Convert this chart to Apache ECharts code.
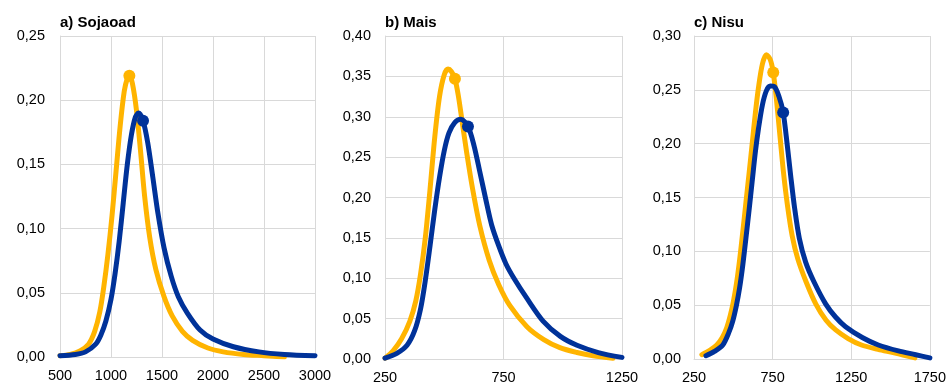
<!DOCTYPE html>
<html><head><meta charset="utf-8">
<script src="https://cdn.jsdelivr.net/npm/echarts@6/dist/echarts.min.js"></script>
<style>html,body{margin:0;padding:0;background:#fff}#c{width:949px;height:385px}</style>
</head><body><div id="c"></div>
<script>
// Panel titles
const panelTitles = ['a) Sojaoad', 'b) Mais', 'c) Nisu'];
// Axis ranges [xmin, xmax, xstep, ymax]
const xRanges = [[500, 3000, 500, 0.25], [250, 1250, 500, 0.40], [250, 1750, 500, 0.30]];

// Panel a) orange / blue curves [x, y]
const soyOrange = [[500,0.001],[600,0.002],[700,0.005],[780,0.010],[840,0.020],[890,0.035],[930,0.055],[970,0.080],[1010,0.110],[1050,0.145],[1090,0.180],[1130,0.207],[1160,0.217],[1180,0.219],[1210,0.213],[1250,0.192],[1290,0.160],[1330,0.125],[1380,0.093],[1440,0.068],[1520,0.047],[1600,0.032],[1700,0.020],[1800,0.013],[1950,0.007],[2100,0.004],[2300,0.002],[2500,0.001],[2700,0.000]];
const soyBlue = [[500,0.001],[650,0.002],[750,0.004],[850,0.010],[900,0.017],[950,0.028],[1000,0.045],[1040,0.065],[1080,0.090],[1120,0.120],[1160,0.150],[1200,0.173],[1240,0.187],[1270,0.190],[1314,0.184],[1360,0.167],[1410,0.140],[1460,0.112],[1520,0.085],[1590,0.063],[1660,0.047],[1750,0.034],[1873,0.021],[2000,0.014],[2200,0.008],[2450,0.004],[2700,0.002],[3000,0.001]];
// Panel b)
const maizeOrange = [[250,0.001],[284,0.010],[320,0.025],[355,0.047],[380,0.072],[400,0.105],[420,0.150],[440,0.210],[460,0.275],[480,0.325],[500,0.352],[516,0.359],[530,0.356],[545,0.347],[560,0.325],[575,0.295],[595,0.255],[620,0.210],[650,0.165],[690,0.122],[730,0.092],[777,0.066],[849,0.040],[920,0.024],[988,0.014],[1060,0.008],[1128,0.004],[1212,0.001]];
const maizeBlue = [[250,0.001],[300,0.007],[343,0.017],[375,0.035],[400,0.062],[420,0.097],[440,0.140],[460,0.185],[480,0.225],[500,0.258],[520,0.280],[545,0.293],[570,0.297],[600,0.288],[625,0.265],[650,0.232],[675,0.198],[700,0.166],[730,0.140],[760,0.118],[794,0.100],[849,0.075],[917,0.047],[990,0.028],[1060,0.017],[1150,0.008],[1250,0.002]];
// Panel c)
const wheatOrange = [[300,0.004],[350,0.008],[395,0.013],[430,0.020],[458,0.029],[480,0.040],[500,0.053],[520,0.070],[540,0.092],[560,0.118],[580,0.145],[600,0.172],[620,0.200],[640,0.228],[660,0.252],[685,0.274],[710,0.2826],[735,0.278],[754,0.266],[775,0.240],[798,0.205],[820,0.172],[845,0.142],[875,0.114],[910,0.093],[962,0.072],[1025,0.051],[1090,0.036],[1151,0.027],[1230,0.019],[1315,0.013],[1420,0.009],[1529,0.0055],[1655,0.001]];
const wheatBlue = [[326,0.003],[380,0.007],[433,0.013],[470,0.024],[496,0.035],[520,0.050],[540,0.066],[560,0.087],[580,0.112],[600,0.138],[620,0.165],[640,0.192],[660,0.214],[685,0.236],[710,0.249],[735,0.2535],[760,0.253],[790,0.244],[817,0.229],[842,0.200],[865,0.170],[890,0.140],[920,0.112],[960,0.090],[1012,0.072],[1088,0.051],[1150,0.039],[1214,0.030],[1320,0.020],[1422,0.013],[1550,0.0075],[1660,0.004],[1750,0.001]];

// Highlighted points
const orangeMarkers = [[1180,0.219],[545,0.347],[754,0.266]];
const blueMarkers = [[1314,0.184],[600,0.288],[817,0.229]];

const orangeSeries = [soyOrange, maizeOrange, wheatOrange];
const blueSeries = [soyBlue, maizeBlue, wheatBlue];

const ORANGE = '#FFB400', BLUE = '#003299', GRID = '#d9d9d9';
const FONT = 'Liberation Sans';
const grids = [
  {left:60, right:634, top:36, bottom:28},
  {left:385, right:327, top:36, bottom:24},
  {left:694, right:17, top:36, bottom:24}
];
const yMargins = [15, 14, 13];

const chart = echarts.init(document.getElementById('c'));
const option = {
  animation:false,
  backgroundColor:'#fff',
  title: panelTitles.map((t,i)=>({text:t, left:grids[i].left, top:15, padding:0, textStyle:{fontFamily:FONT, fontSize:15, fontWeight:'bold', color:'#000'}})),
  grid: grids,
  xAxis: xRanges.map((r,i)=>({type:'value', gridIndex:i, min:r[0], max:r[1], interval:r[2],
    axisLine:{show:true, lineStyle:{color:GRID}}, axisTick:{show:false},
    splitLine:{show:true, lineStyle:{color:GRID, width:1}},
    axisLabel:{color:'#000', fontFamily:FONT, fontSize:14.5, margin:11, showMaxLabel:true, showMinLabel:true, formatter:v=>String(v)}})),
  yAxis: xRanges.map((r,i)=>({type:'value', gridIndex:i, min:0, max:r[3], interval:0.05,
    axisLine:{show:true, lineStyle:{color:GRID}}, axisTick:{show:false},
    splitLine:{show:true, lineStyle:{color:GRID, width:1}},
    axisLabel:{color:'#000', fontFamily:FONT, fontSize:14.5, margin:yMargins[i], formatter:v=>v.toFixed(2).replace('.', ',')}})),
  series: []
};
for (let i=0;i<3;i++){
  option.series.push({type:'line', xAxisIndex:i, yAxisIndex:i, data:orangeSeries[i], smooth:0.3, showSymbol:false,
    lineStyle:{color:ORANGE, width:5, cap:'round', join:'round'}, z:2});
  option.series.push({type:'line', xAxisIndex:i, yAxisIndex:i, data:blueSeries[i], smooth:0.3, showSymbol:false,
    lineStyle:{color:BLUE, width:5, cap:'round', join:'round'}, z:3});
  option.series.push({type:'scatter', xAxisIndex:i, yAxisIndex:i, data:[orangeMarkers[i]], symbolSize:12,
    itemStyle:{color:ORANGE, opacity:1}, z:4});
  option.series.push({type:'scatter', xAxisIndex:i, yAxisIndex:i, data:[blueMarkers[i]], symbolSize:12,
    itemStyle:{color:BLUE, opacity:1}, z:5});
}
chart.setOption(option);
</script></body></html>
